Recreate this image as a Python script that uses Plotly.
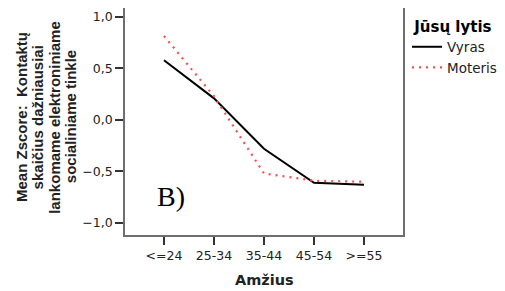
import plotly.graph_objects as go

categories = ["<=24", "25-34", "35-44", "45-54", ">=55"]
vyras = [0.58, 0.21, -0.28, -0.61, -0.63]
moteris = [0.815, 0.23, -0.52, -0.59, -0.60]
y_ticks = [-1.0, -0.5, 0.0, 0.5, 1.0]
y_title_lines = ["Mean Zscore:  Kontaktų", "skaičius dažniausiai",
                 "lankomame elektroniniame", "socialiniame tinkle"]

fig = go.Figure()
fig.add_trace(go.Scatter(x=categories, y=vyras, mode="lines", name="Vyras",
                         line=dict(color="black", width=2)))
fig.add_trace(go.Scatter(x=categories, y=moteris, mode="lines", name="Moteris",
                         line=dict(color="#ff4d4d", width=2.2, dash="2px,5px")))

# page has an 8px body margin; figure coords = page coords - 8
OFF = 8
W, H = 505 - OFF, 291 - OFF
L, T = 125 - OFF, 0
plot_right, plot_bottom = 403 - OFF, 235 - OFF
R, B = W - plot_right, H - plot_bottom
plot_w = W - L - R
plot_h = H - T - B


def px(page_x):
    return (page_x - OFF - L) / plot_w


def py(page_y):
    return (plot_bottom - (page_y - OFF)) / plot_h


fig.update_layout(
    width=W, height=H,
    margin=dict(l=L, r=R, t=T, b=B, autoexpand=False),
    paper_bgcolor="white", plot_bgcolor="white",
    separators=", ",
    font=dict(family="DejaVu Sans, sans-serif", size=12.5, color="#222"),
    showlegend=True,
    legend=dict(
        title=dict(text="<b> Jūsų lytis</b>", font=dict(size=15, color="black")),
        x=px(407), y=py(12), xanchor="left", yanchor="top",
        font=dict(size=13.5, color="#222"),
        itemwidth=30, tracegroupgap=0,
        bgcolor="rgba(0,0,0,0)",
    ),
    xaxis=dict(
        type="category", range=[-0.78, 4.78],
        showline=True, mirror=True, linecolor="#6e6e6e", linewidth=1.6,
        ticks="outside", ticklen=8, tickcolor="#333", tickwidth=1.5,
        showgrid=False, zeroline=False, automargin=False,
    ),
    yaxis=dict(
        range=[-1.117, 1.087],
        tickvals=y_ticks, tickformat=".1f",
        showline=True, mirror=True, linecolor="#6e6e6e", linewidth=1.6,
        ticks="outside", ticklen=8, tickcolor="#333", tickwidth=1.5,
        showgrid=False, zeroline=False, automargin=False,
    ),
)

for i, line in enumerate(y_title_lines):
    fig.add_annotation(
        text="<b>" + line + "</b>",
        xref="paper", yref="paper", x=px(22 + i * 16.4), y=py(117),
        xanchor="center", yanchor="middle", textangle=-90, showarrow=False,
        font=dict(family="Liberation Sans, Arial, sans-serif", size=15, color="#222"),
    )

fig.add_annotation(
    text="<b>Amžius</b>", xref="paper", yref="paper",
    x=0.5, y=py(280), xanchor="center", yanchor="middle",
    showarrow=False, font=dict(size=14.5, color="#222"),
)
fig.add_annotation(
    text="B)", xref="x", yref="y", x=0.14, y=-0.74,
    showarrow=False, xanchor="center", yanchor="middle",
    font=dict(family="Liberation Serif, Times New Roman, serif", size=28, color="black"),
)

fig.write_html("out.html")
